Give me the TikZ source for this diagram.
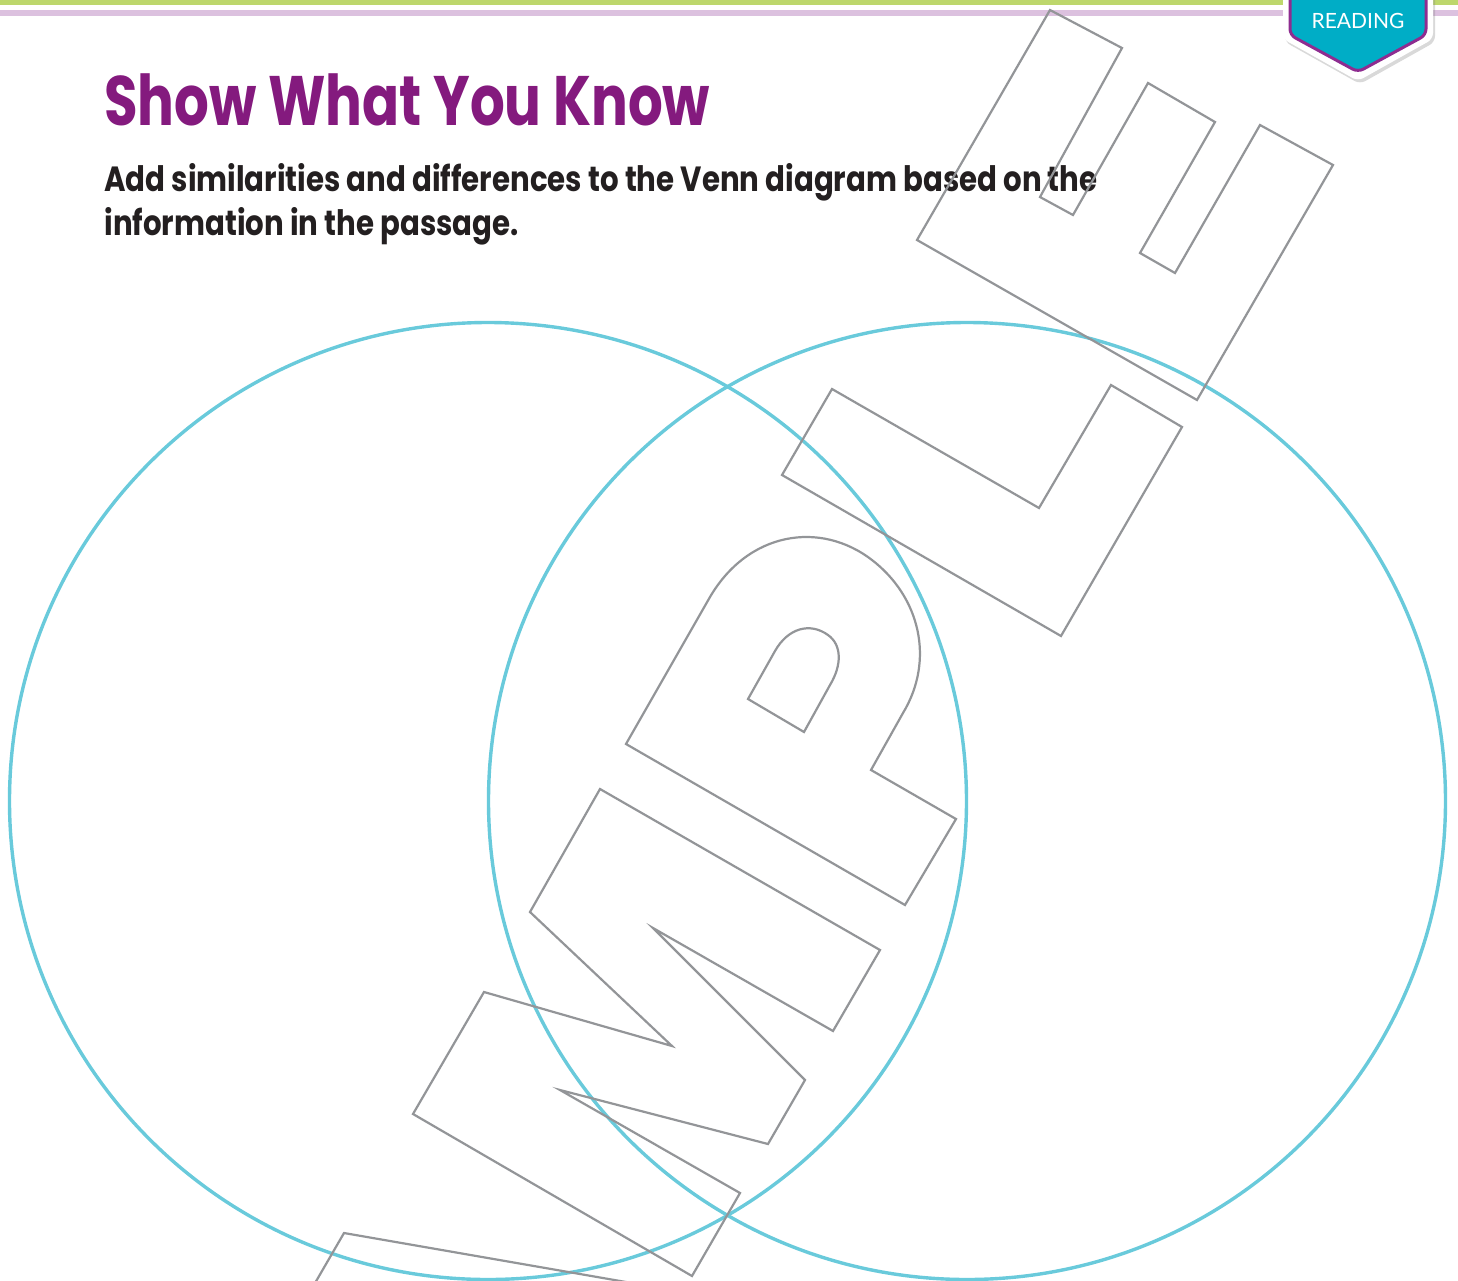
\documentclass[tikz,border=0pt]{standalone}
\usepackage{fontspec}
\usetikzlibrary{shadows,positioning}
\newfontfamily\headfont[FakeStretch=0.78]{Poppins}
\newfontfamily\bodyfont[FakeStretch=0.835]{Poppins}
\newfontfamily\tabfont{Lato}
\definecolor{swpurple}{HTML}{841A7E}
\definecolor{swink}{HTML}{231F20}
\definecolor{swcyan}{HTML}{69CADB}
\definecolor{swgreen}{HTML}{BDD76C}
\definecolor{swlilac}{HTML}{DCC1DF}
\definecolor{swteal}{HTML}{00ADC6}
\definecolor{swtabline}{HTML}{8E2C90}
\definecolor{swgrey}{HTML}{939598}

\begin{document}
\begin{tikzpicture}[
  x=0.5pt, y=-0.5pt,
  venn/.style={circle, draw=swcyan, line width=1.7pt, minimum size=478.5pt, inner sep=0pt},
  wmark/.style={draw=swgrey, line width=1.1pt, line join=miter},
  title/.style={font=\headfont\bfseries\fontsize{35}{40}\selectfont, text=swpurple, inner sep=0pt},
  instr/.style={font=\bodyfont\bfseries\fontsize{17.5}{21}\selectfont, text=swink, inner sep=0pt},
  tabtext/.style={font=\tabfont\fontsize{10.5}{12}\selectfont, text=white, inner sep=0pt},
]
  \useasboundingbox (0,0) rectangle (1458,1281);

  %% bandes du haut
  \fill[swgreen] (0,0) rectangle (1458,5);
  \fill[swlilac] (0,10) rectangle (1458,16);

  %% onglet READING
  \fill[white, rounded corners=3pt, drop shadow={opacity=0.3, shadow xshift=1pt, shadow yshift=-1.5pt}]
    (1283,-10) -- (1283,39) -- (1358,81) -- (1433,39) -- (1433,-10) -- cycle;
  \draw[swtabline, fill=swteal, line width=1.5pt, rounded corners=3pt]
    (1290,-10) -- (1290,35) -- (1358,72) -- (1426,35) -- (1426,-10) -- cycle;
  \node[tabtext] (tablabel) at (1358,21) {READING};

  %% titre et consigne
  \node[title, anchor=base west] (title) at (104,125) {Show What You Know};
  \node[instr, anchor=base west] (instr1) at (104,191)
    {Add similarities and differences to the Venn diagram based on the};
  \node[instr, anchor=base west] (instr2) at ([yshift=-22pt]instr1.base west)
    {information in the passage.};

  %% diagramme de Venn
  \node[venn] (leftset)  at (488,801) {};
  \node[venn] (rightset) at (967,801) {};

  %% filigrane SAMPLE
  \draw[wmark] (1050,10) -- (917,240) -- (1197,400) -- (1333,165) -- (1260,125)
    -- (1175,273) -- (1140,253) -- (1215,122) -- (1148,83) -- (1073,215)
    -- (1040,197) -- (1122,48) -- cycle;
  \draw[wmark] (832,389) -- (1039,508) -- (1111,385) -- (1182,427) -- (1061,636)
    -- (782,475) -- cycle;
  \draw[wmark] (626,744) -- (710,597) .. controls (748,532) and (820,520) .. (872,560)
    .. controls (920,597) and (935,660) .. (903,713) -- (871,770) -- (956,819)
    -- (905,905) -- cycle;
  \draw[wmark] (748,699) -- (775,651) .. controls (788,628) and (810,622) .. (828,635)
    .. controls (842,645) and (842,665) .. (830,685) -- (804,732) -- cycle;
  \draw[wmark] (600,789) -- (880,950) -- (833,1031) -- (653,928) -- (805,1080)
    -- (768,1144) -- (560,1090) -- (740,1193) -- (692,1276) -- (413,1114)
    -- (484,992) -- (672,1046) -- (530,912) -- cycle;
  \draw[wmark] (311,1290) -- (344,1233) -- (672,1290);

\end{tikzpicture}
\end{document}
